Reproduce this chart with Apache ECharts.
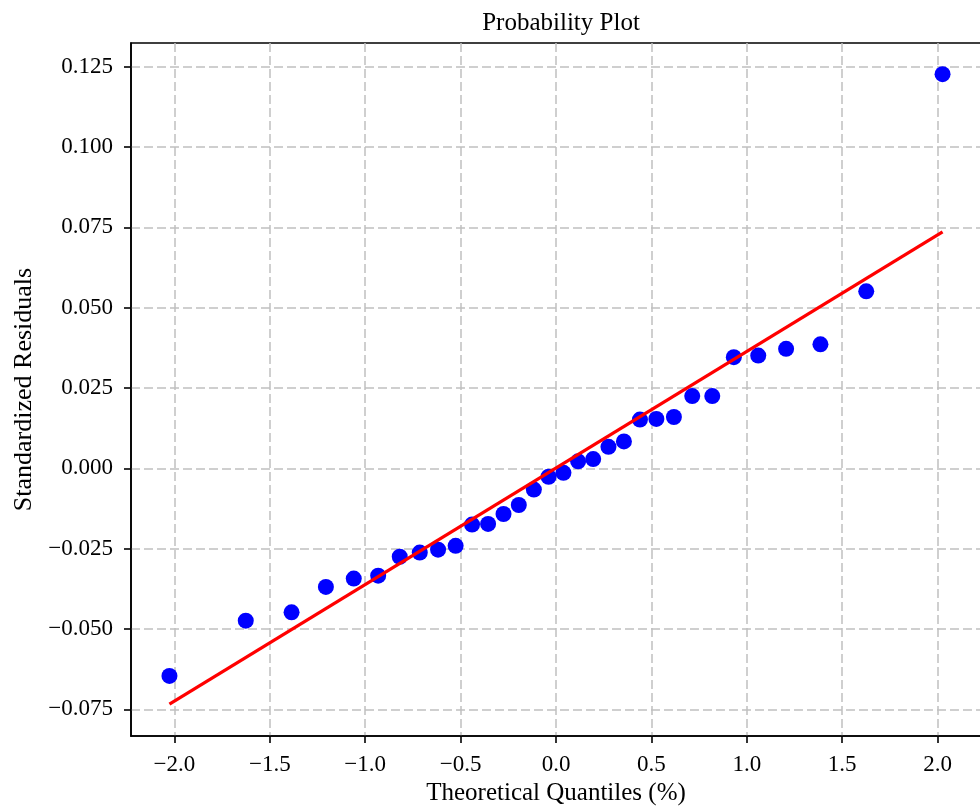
<!DOCTYPE html>
<html>
<head>
<meta charset="utf-8">
<script src="https://cdn.jsdelivr.net/npm/echarts@6/dist/echarts.min.js"></script>
<style>html,body{margin:0;padding:0;background:#fff}#chart{width:980px;height:808px}</style>
</head>
<body>
<div id="chart"></div>
<script>
// Theoretical quantiles (x) and ordered standardized residuals (y)
var quantiles = [-2.026, -1.626, -1.386, -1.206, -1.060, -0.932, -0.819, -0.714,
  -0.618, -0.526, -0.440, -0.356, -0.275, -0.195, -0.116, -0.039,
  0.039, 0.116, 0.195, 0.275, 0.356, 0.440, 0.526, 0.618,
  0.714, 0.819, 0.932, 1.060, 1.206, 1.386, 1.626, 2.026];
var residuals = [-0.0646, -0.0474, -0.0448, -0.0369, -0.0343, -0.0334, -0.0275, -0.0262,
  -0.0253, -0.0241, -0.0175, -0.0173, -0.0142, -0.0114, -0.0066, -0.0026,
  -0.0014, 0.0022, 0.0029, 0.0067, 0.0084, 0.0152, 0.0154, 0.0160,
  0.0225, 0.0225, 0.0346, 0.0351, 0.0372, 0.0386, 0.0551, 0.1227];
// Fitted reference line end points
var fitLineX = [-2.026, 2.026];
var fitLineY = [-0.0734, 0.0736];
// Tick labels
var xTicks = [-2.0, -1.5, -1.0, -0.5, 0.0, 0.5, 1.0, 1.5, 2.0];
var yTicks = [-0.075, -0.050, -0.025, 0.000, 0.025, 0.050, 0.075, 0.100, 0.125];
var xRange = [-2.2275, 2.2275];
var yRange = [-0.0833, 0.1324];

var FONT = 'Liberation Serif';
function fmt(v, d) { return v.toFixed(d).replace('-', '\u2212'); }

var points = quantiles.map(function (q, i) { return [q, residuals[i]]; });
var linePts = fitLineX.map(function (x, i) { return [x, fitLineY[i]]; });

var gridLine = { show: true, lineStyle: { color: '#c0c0c0', width: 1.5, type: [9, 4] } };

var chart = echarts.init(document.getElementById('chart'), null, { renderer: 'canvas' });
chart.setOption({
  animation: false,
  backgroundColor: '#fff',
  title: {
    text: 'Probability Plot', left: 556, top: 6, textAlign: 'center',
    textStyle: { fontFamily: FONT, fontSize: 25, fontWeight: 'normal', color: '#000' }
  },
  grid: { left: 131, top: 43, width: 850, height: 693, containLabel: false, outerBoundsMode: 'none',
    show: true, borderColor: '#000', borderWidth: 1.6, backgroundColor: 'transparent' },
  xAxis: {
    type: 'value', min: xRange[0], max: xRange[1],
    name: 'Theoretical Quantiles (%)', nameLocation: 'middle', nameGap: 41,
    nameTextStyle: { fontFamily: FONT, fontSize: 25, color: '#000' },
    axisLine: { show: true, onZero: false, lineStyle: { color: '#000', width: 1.6 } },
    axisTick: { show: true, length: 7, lineStyle: { color: '#000', width: 1.6 }, customValues: xTicks },
    axisLabel: { fontFamily: FONT, fontSize: 23, color: '#000', margin: 17, customValues: xTicks,
      formatter: function (v) { return fmt(v, 1); } },
    splitLine: gridLine
  },
  yAxis: {
    type: 'value', min: yRange[0], max: yRange[1],
    name: 'Standardized Residuals', nameLocation: 'middle', nameGap: 91,
    nameTextStyle: { fontFamily: FONT, fontSize: 26, color: '#000' },
    axisLine: { show: true, onZero: false, lineStyle: { color: '#000', width: 1.6 } },
    axisTick: { show: true, length: 7, lineStyle: { color: '#000', width: 1.6 }, customValues: yTicks },
    axisLabel: { fontFamily: FONT, fontSize: 23, color: '#000', margin: 18, customValues: yTicks,
      formatter: function (v) { return fmt(v, 3); } },
    splitLine: gridLine
  },
  series: [
    { type: 'scatter', data: points, symbol: 'circle', symbolSize: 16,
      itemStyle: { color: '#0000ff', opacity: 1 }, z: 3 },
    { type: 'line', data: linePts, showSymbol: false, symbol: 'none',
      lineStyle: { color: '#ff0000', width: 3.3 }, z: 4 }
  ]
});
</script>
</body>
</html>
